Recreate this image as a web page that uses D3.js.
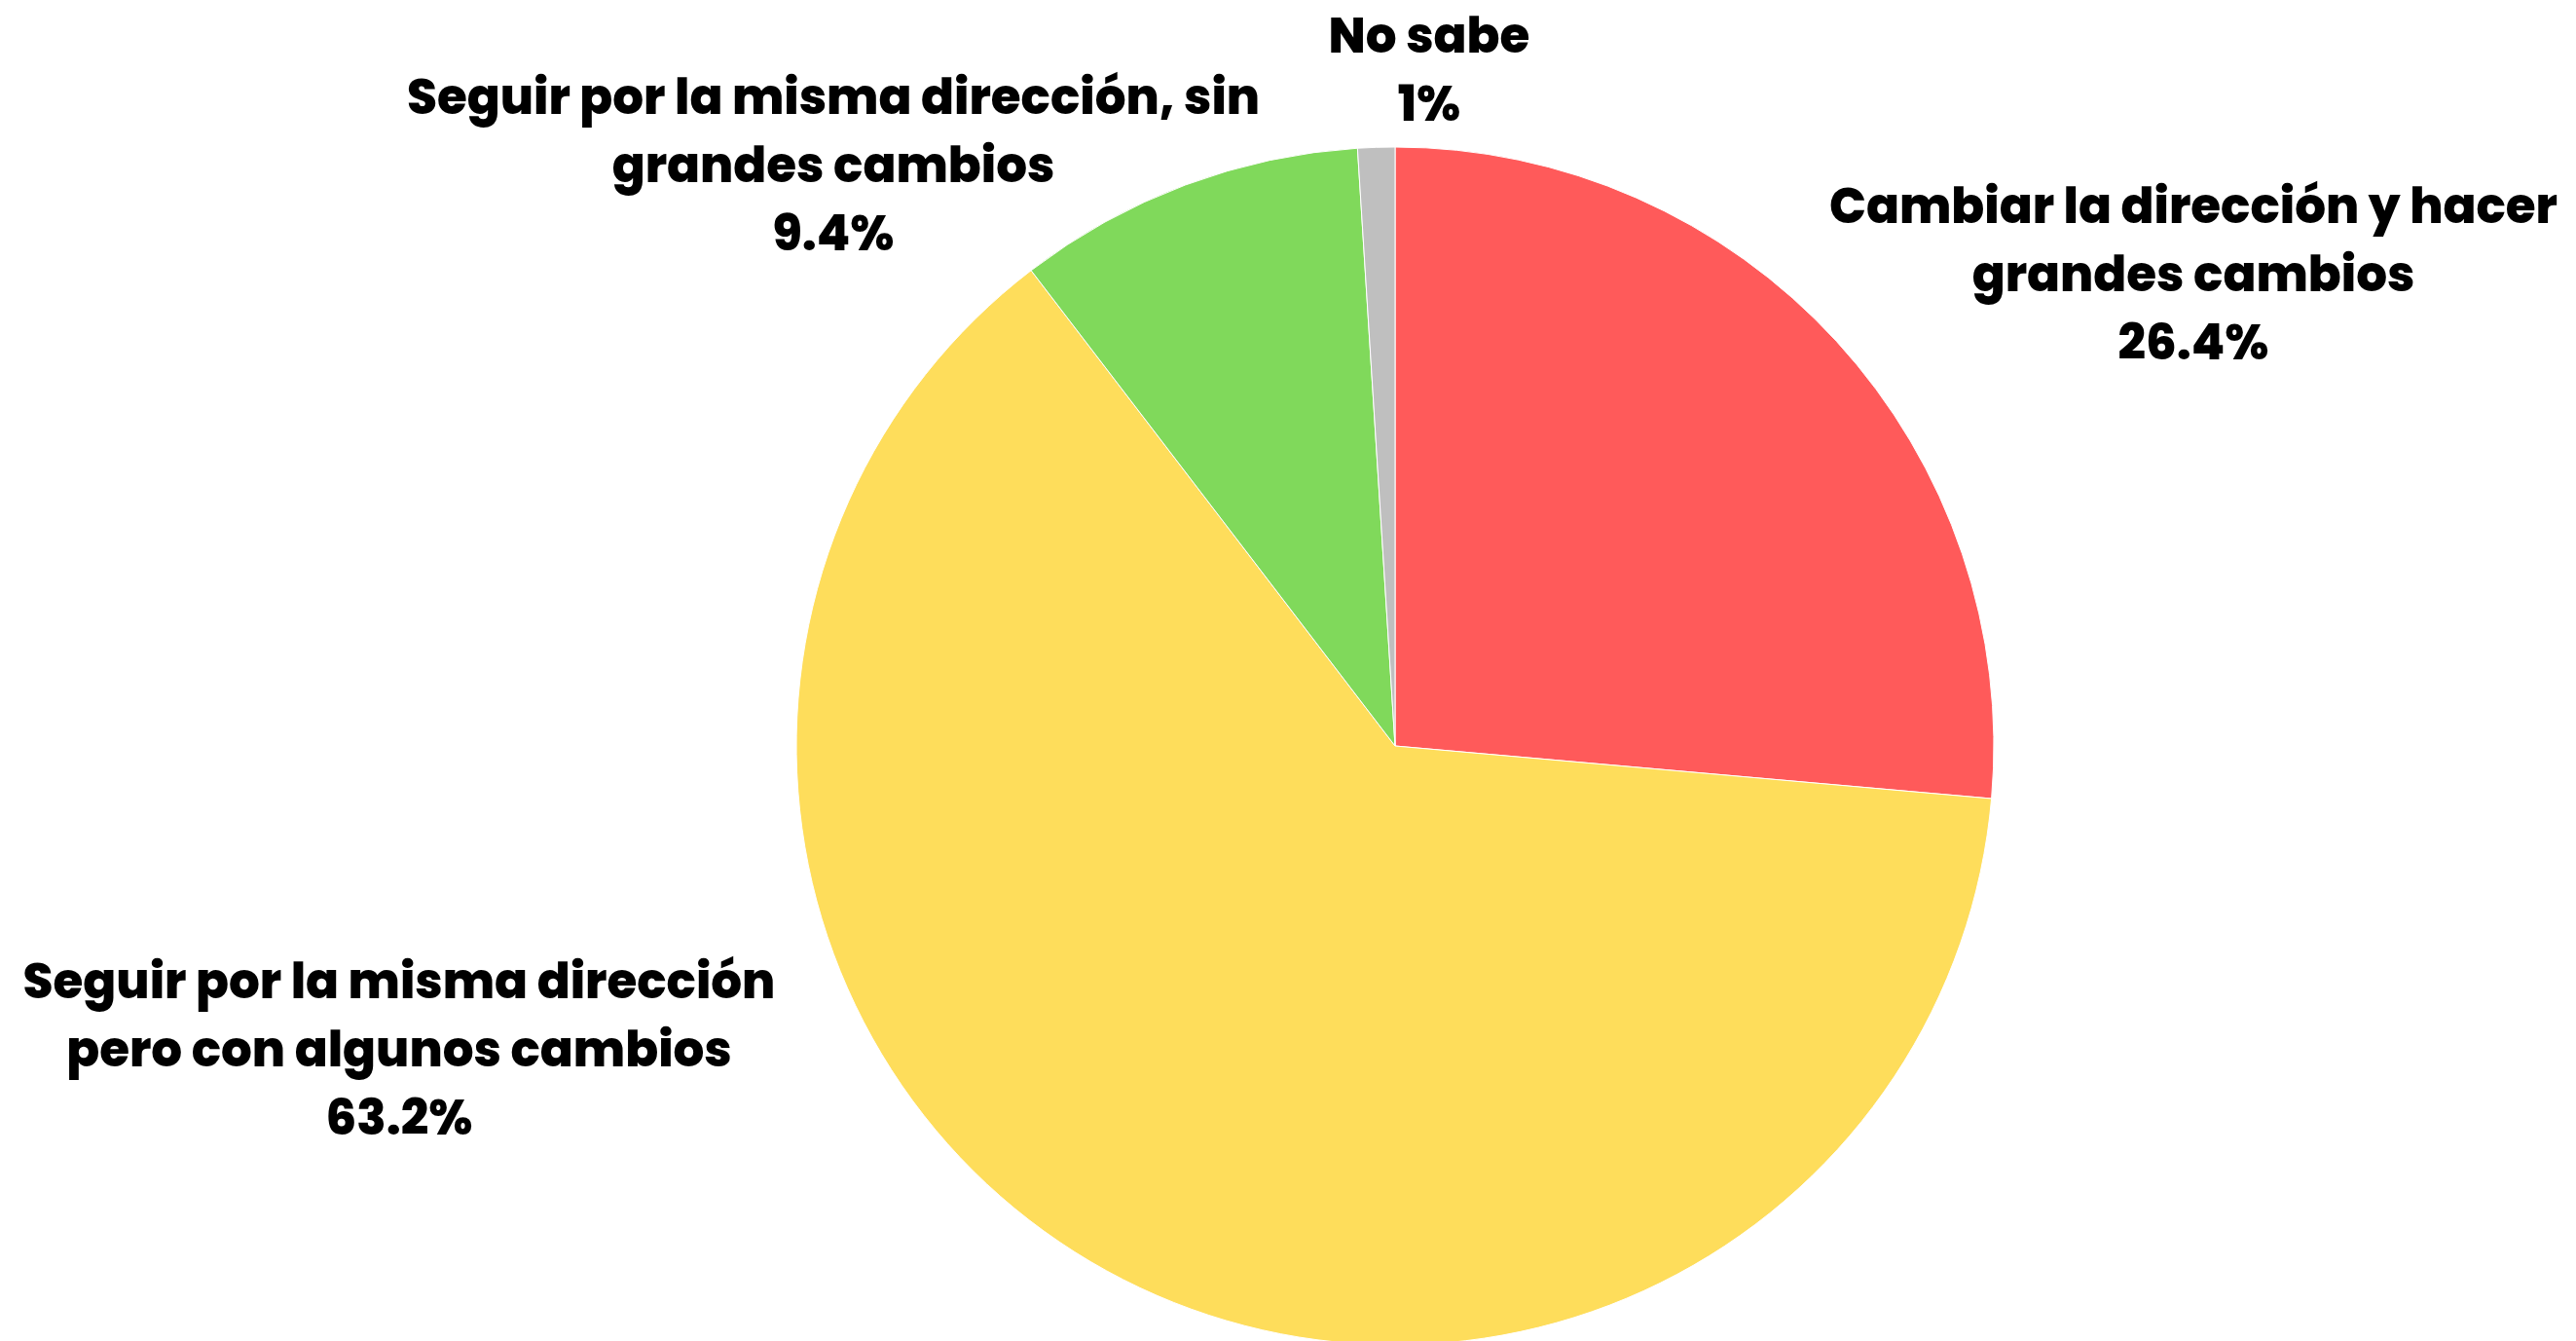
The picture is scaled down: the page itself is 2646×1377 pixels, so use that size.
<!DOCTYPE html>
<html>
<head>
<meta charset="utf-8">
<script src="https://cdn.jsdelivr.net/npm/d3@7"></script>
<style>
  html, body { margin: 0; padding: 0; background: #fff; overflow: hidden; }
  svg text { font-family: "Poppins", "Inter", "Noto Sans", sans-serif; font-weight: 800; fill: #000; }
</style>
</head>
<body>
<div id="container"></div>
<script>
/* DATA */
const categories = [
  "Cambiar la dirección y hacer grandes cambios",
  "Seguir por la misma dirección pero con algunos cambios",
  "Seguir por la misma dirección, sin grandes cambios",
  "No sabe"
];
const values = [26.4, 63.2, 9.4, 1];
const valueLabels = ["26.4%", "63.2%", "9.4%", "1%"];
/* label text broken in lines as in the picture */
const labelLines = [
  ["Cambiar la dirección y hacer", "grandes cambios"],
  ["Seguir por la misma dirección", "pero con algunos cambios"],
  ["Seguir por la misma dirección, sin", "grandes cambios"],
  ["No sabe"]
];
const colors = ["#ff5a5a", "#fedd5b", "#80d95b", "#bfbfbf"];

/* LAYOUT */
const width = 2646;
const height = 1377;
const cx = 1433, cy = 766, radius = 615;
const fontSize = 50;
const lineGap = 70;
/* label anchor: center x, baseline of the last line */
const labelPos = [
  { x: 2253, y: 369 },
  { x: 410, y: 1165 },
  { x: 856, y: 257 },
  { x: 1468, y: 124 }
];

const svg = d3.select("#container")
  .append("svg")
  .attr("width", width)
  .attr("height", height);

const pie = d3.pie().sort(null).value(d => d.value);
const arc = d3.arc().innerRadius(0).outerRadius(radius);

const data = categories.map((c, i) => ({ name: c, value: values[i], i }));

svg.append("g")
  .attr("transform", `translate(${cx},${cy})`)
  .selectAll("path")
  .data(pie(data))
  .join("path")
  .attr("d", arc)
  .attr("fill", d => colors[d.data.i])
  .attr("stroke", "#fff")
  .attr("stroke-width", 1);

/* LABELS */
const labels = svg.selectAll(".label")
  .data(data)
  .join("text")
  .attr("class", "label")
  .attr("text-anchor", "middle")
  .attr("font-size", fontSize);

labels.each(function(d) {
  const lines = labelLines[d.i].concat([valueLabels[d.i]]);
  const p = labelPos[d.i];
  const top = p.y - (lines.length - 1) * lineGap;
  d3.select(this).selectAll("tspan")
    .data(lines)
    .join("tspan")
    .attr("x", p.x)
    .attr("y", (l, k) => top + k * lineGap)
    .text(l => l);
});
</script>
</body>
</html>
